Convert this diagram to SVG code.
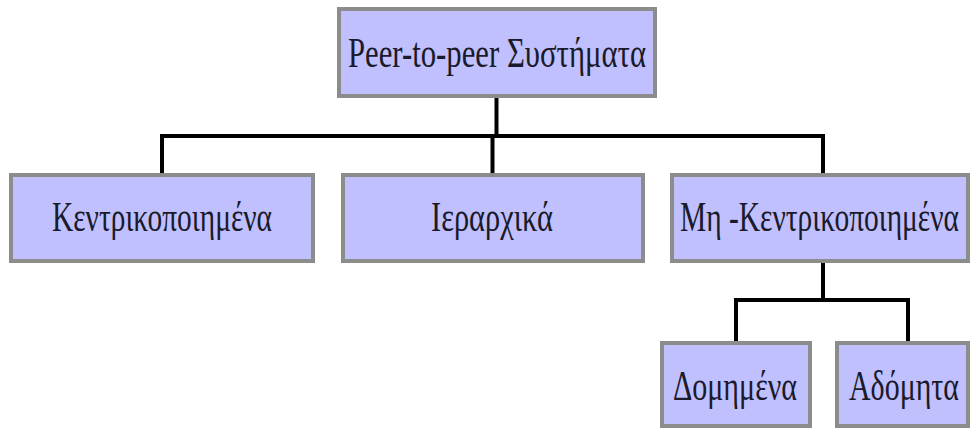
<svg xmlns="http://www.w3.org/2000/svg" width="971" height="429" viewBox="0 0 971 429">
<style>
.box{fill:#c0c0ff;stroke:#8c8c8c;stroke-width:4}
.lbl{font-family:"Liberation Serif","DejaVu Serif",serif;font-size:30px;fill:#1a1a2a}
.conn{fill:none;stroke:#000;stroke-width:4;stroke-linecap:butt;stroke-linejoin:miter}
</style>
<rect width="971" height="429" fill="#ffffff"/>
<g id="connectors">
<path class="conn" d="M496.5,97 V136"/>
<path class="conn" d="M162,173 V136 H823 V173"/>
<path class="conn" d="M492.5,136 V173"/>
<path class="conn" d="M823,263 V300"/>
<path class="conn" d="M736,341 V300 H908 V341"/>
</g>
<g id="node-p2p">
<rect class="box" x="339" y="9" width="316" height="87"/>
<text class="lbl" transform="translate(348,67) scale(1,1.4)" textLength="298" lengthAdjust="spacingAndGlyphs">Peer-to-peer Συστήματα</text>
</g>
<g id="node-central">
<rect class="box" x="11" y="175" width="302" height="86"/>
<text class="lbl" transform="translate(52,231) scale(1,1.4)" textLength="220" lengthAdjust="spacingAndGlyphs">Κεντρικοποιημένα</text>
</g>
<g id="node-hier">
<rect class="box" x="343" y="175" width="300" height="86"/>
<text class="lbl" transform="translate(431,231) scale(1,1.4)" textLength="122" lengthAdjust="spacingAndGlyphs">Ιεραρχικά</text>
</g>
<g id="node-decentral">
<rect class="box" x="672" y="175" width="296" height="86"/>
<text class="lbl" transform="translate(680,231) scale(1,1.4)" textLength="279" lengthAdjust="spacingAndGlyphs">Μη -Κεντρικοποιημένα</text>
</g>
<g id="node-structured">
<rect class="box" x="662" y="343" width="148" height="83"/>
<text class="lbl" transform="translate(673,400) scale(1,1.4)" textLength="124" lengthAdjust="spacingAndGlyphs">Δομημένα</text>
</g>
<g id="node-unstructured">
<rect class="box" x="837" y="343" width="131" height="83"/>
<text class="lbl" transform="translate(849,400) scale(1,1.4)" textLength="110" lengthAdjust="spacingAndGlyphs">Αδόμητα</text>
</g>
</svg>
